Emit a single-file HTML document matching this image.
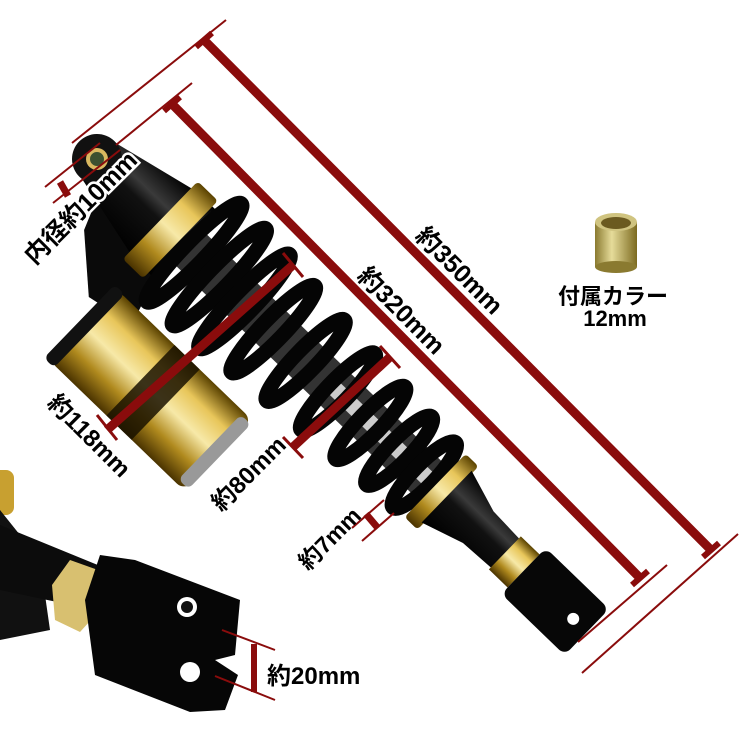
<!DOCTYPE html>
<html><head><meta charset="utf-8"><style>
html,body{margin:0;padding:0;background:#fff;width:750px;height:750px;overflow:hidden}
svg{display:block}
.t{font-family:"Liberation Sans","Noto Sans CJK JP",sans-serif;font-weight:600;fill:#000}
</style></head><body>
<svg width="750" height="750" viewBox="0 0 750 750" xmlns="http://www.w3.org/2000/svg">
<defs>
<linearGradient id="gold" x1="0" y1="0" x2="0" y2="1">
<stop offset="0" stop-color="#5a4200"/><stop offset="0.25" stop-color="#e8c65a"/><stop offset="0.5" stop-color="#f7e9a8"/><stop offset="0.75" stop-color="#b08a1e"/><stop offset="1" stop-color="#4a3300"/>
</linearGradient>
<linearGradient id="blk" x1="0" y1="0" x2="0" y2="1">
<stop offset="0" stop-color="#000"/><stop offset="0.35" stop-color="#3a3a3a"/><stop offset="0.5" stop-color="#111"/><stop offset="1" stop-color="#000"/>
</linearGradient>
<linearGradient id="bush" x1="0" y1="0" x2="1" y2="0">
<stop offset="0" stop-color="#8a7a30"/><stop offset="0.4" stop-color="#e6dc9a"/><stop offset="1" stop-color="#7c6a20"/>
</linearGradient>
</defs>

<g transform="translate(97,159) rotate(44)">
  <path d="M20,10 L120,30 L140,95 L90,105 L40,60 Z" fill="#0a0a0a"/>
  <rect x="105" y="80" width="188" height="98" rx="10" fill="url(#gold)"/>
  <rect x="100" y="78" width="14" height="102" rx="6" fill="#111"/>
  <rect x="185" y="80" width="35" height="98" fill="#1a1200" opacity="0.85"/>
  <rect x="281" y="84" width="14" height="90" rx="6" fill="#999"/>
  <path d="M0,-24 L95,-46 L130,-46 L130,46 L95,46 L0,24 Z" fill="url(#blk)"/>
  <circle cx="0" cy="0" r="25" fill="#111"/>
  <circle cx="0" cy="0" r="11" fill="#d9b860"/>
  <circle cx="0" cy="0" r="7" fill="#3c5030"/>
  <rect x="88" y="-54" width="28" height="108" rx="4" fill="url(#gold)"/>
  <rect x="120" y="-22" width="360" height="44" fill="#333"/>
  <rect x="330" y="-8" width="150" height="16" fill="#ccc"/>
  <g fill="none" stroke="#050505" stroke-width="15">
    <ellipse cx="135" cy="0" rx="11" ry="68"/>
    <ellipse cx="170" cy="0" rx="11" ry="67"/>
    <ellipse cx="205" cy="0" rx="11" ry="65"/>
    <ellipse cx="245" cy="0" rx="11" ry="60"/>
    <ellipse cx="290" cy="0" rx="11" ry="56"/>
    <ellipse cx="335" cy="0" rx="11" ry="53"/>
    <ellipse cx="380" cy="0" rx="11" ry="50"/>
    <ellipse cx="420" cy="0" rx="11" ry="47"/>
    <ellipse cx="455" cy="0" rx="11" ry="45"/>
  </g>
  <rect x="470" y="-44" width="18" height="88" rx="4" fill="url(#gold)"/>
  <path d="M486,-36 L530,-22 L572,-20 L572,20 L530,22 L486,36 Z" fill="url(#blk)"/>
  <rect x="567" y="-23" width="26" height="46" fill="url(#gold)"/>
  <rect x="593" y="-32" width="88" height="64" rx="8" fill="#070707"/>
  <circle cx="662" cy="0" r="6" fill="#fff"/>
</g>

<rect x="-10" y="470" width="24" height="45" rx="8" fill="#c8a030"/>
<path d="M0,510 L40,560 L50,630 L0,640 Z" fill="#111"/>
<path d="M0,525 L110,570 L95,610 L0,590 Z" fill="#0c0c0c"/>
<polygon points="52,585 70,560 98,570 100,610 80,632 55,620" fill="#d8c070"/>
<path d="M100,555 L135,560 L240,600 L235,655 L215,660 L238,675 L225,710 L190,712 L95,675 L85,600 Z" fill="#060606"/>
<circle cx="187" cy="607" r="10" fill="#fff"/>
<circle cx="187" cy="607" r="6" fill="#111"/>
<circle cx="190" cy="672" r="10" fill="#fff"/>

<rect x="595" y="222" width="42" height="45" fill="url(#bush)"/>
<ellipse cx="616" cy="267" rx="21" ry="6" fill="#8a7a30"/>
<ellipse cx="616" cy="222" rx="21" ry="9" fill="#d0c480"/>
<ellipse cx="616" cy="223" rx="15" ry="6" fill="#6b5a20"/>

<g stroke="#8a0c0c" stroke-linecap="butt">
  <line x1="226" y1="20" x2="72" y2="143" stroke-width="2"/>
  <line x1="738" y1="534" x2="582" y2="673" stroke-width="2"/>
  <line x1="204" y1="40" x2="711" y2="550" stroke-width="9"/>
  <line x1="196" y1="47" x2="212" y2="33" stroke-width="6"/>
  <line x1="703" y1="557" x2="719" y2="543" stroke-width="6"/>
  <line x1="192" y1="83" x2="116" y2="145" stroke-width="2"/>
  <line x1="667" y1="565" x2="578" y2="642" stroke-width="2"/>
  <line x1="172" y1="104" x2="640" y2="578" stroke-width="9"/>
  <line x1="164" y1="111" x2="180" y2="97" stroke-width="6"/>
  <line x1="632" y1="585" x2="648" y2="571" stroke-width="6"/>
  <line x1="45" y1="187" x2="100" y2="143" stroke-width="2"/>
  <line x1="53" y1="203" x2="120" y2="150" stroke-width="2"/>
  <line x1="60" y1="182" x2="68" y2="196" stroke-width="7"/>
  <line x1="293" y1="265" x2="107" y2="430" stroke-width="9"/>
  <line x1="283" y1="253" x2="303" y2="277" stroke-width="3"/>
  <line x1="97" y1="415" x2="117" y2="440" stroke-width="3"/>
  <line x1="390" y1="357" x2="293" y2="447" stroke-width="9"/>
  <line x1="380" y1="346" x2="400" y2="368" stroke-width="3"/>
  <line x1="283" y1="437" x2="303" y2="458" stroke-width="3"/>
  <line x1="352" y1="528" x2="384" y2="500" stroke-width="2"/>
  <line x1="362" y1="541" x2="394" y2="513" stroke-width="2"/>
  <line x1="366" y1="514" x2="377" y2="527" stroke-width="7"/>
  <line x1="222" y1="630" x2="275" y2="650" stroke-width="2"/>
  <line x1="215" y1="676" x2="275" y2="700" stroke-width="2"/>
  <line x1="254" y1="644" x2="254" y2="692" stroke-width="6"/>
</g>

<text class="t" font-size="25" text-anchor="middle" transform="translate(458,272) rotate(45)" dominant-baseline="middle">約350mm</text>
<text class="t" font-size="25" text-anchor="middle" transform="translate(400,312) rotate(45)" dominant-baseline="middle">約320mm</text>
<text class="t" font-size="25" text-anchor="middle" transform="translate(82,209) rotate(-45)" dominant-baseline="middle" stroke="#fff" stroke-width="5" paint-order="stroke">内径約10mm</text>
<text class="t" font-size="24" text-anchor="middle" transform="translate(88,437) rotate(45)" dominant-baseline="middle">約118mm</text>
<text class="t" font-size="24" text-anchor="middle" transform="translate(250,475) rotate(-45)" dominant-baseline="middle">約80mm</text>
<text class="t" font-size="23" text-anchor="middle" transform="translate(331,540) rotate(-45)" dominant-baseline="middle">約7mm</text>
<text class="t" font-size="24" x="267" y="684">約20mm</text>
<text class="t" font-size="22" x="613" y="304" text-anchor="middle">付属カラー</text>
<text class="t" font-size="22" x="615" y="326" text-anchor="middle">12mm</text>
</svg>
</body></html>
